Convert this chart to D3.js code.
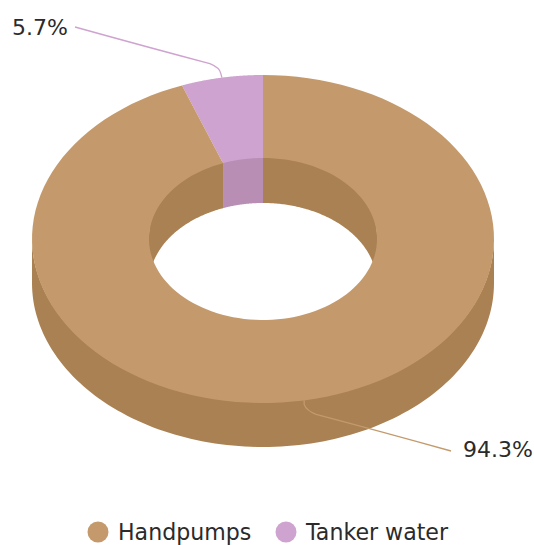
<!DOCTYPE html>
<html><head><meta charset="utf-8">
<script src="https://cdn.jsdelivr.net/npm/d3@7/dist/d3.min.js"></script>
<style>html,body{margin:0;padding:0;background:#fff}svg{display:block}text{font-family:"DejaVu Sans";fill:#2b2b2b}</style>
</head><body><svg id="c" width="534" height="545"></svg>
<script>
const categories = ["Tanker water", "Handpumps"];
const seriesValues = [5.7, 94.3];
const valueLabels = ["5.7%", "94.3%"];
const legendOrder = ["Handpumps", "Tanker water"];
const topColors = {"Handpumps":"#c49a6c","Tanker water":"#cfa3cf"};
const wallColors = {"Handpumps":"#aa8152","Tanker water":"#b88eb5"};

const cx=263, cy=239, rx=231, ry=164, irx=114, iry=81, depth=44;
const svg=d3.select("#c");
const arcs=d3.pie().sort(null).startAngle(-2*Math.PI*seriesValues[0]/100).endAngle(2*Math.PI-2*Math.PI*seriesValues[0]/100)(seriesValues);
const P=(a,k,dy=0)=>[cx+(k?rx:irx)*Math.sin(a), cy-(k?ry:iry)*Math.cos(a)+dy];
const samples=(a0,a1)=>d3.range(0,121).map(i=>a0+(a1-a0)*i/120);
const line=d3.line();

// Outer wall: only the front half is visible
arcs.forEach((d,i)=>{
  const a0=Math.max(d.startAngle,Math.PI/2), a1=Math.min(d.endAngle,3*Math.PI/2);
  if(a1<=a0) return;
  const s=samples(a0,a1);
  svg.append("path").attr("fill",wallColors[categories[i]])
    .attr("d",line([...s.map(a=>P(a,1,-1)),...s.slice().reverse().map(a=>P(a,1,depth))])+"Z");
});
// Hole wall, clipped to the hole: painted first so the top face overlaps its edge
svg.append("clipPath").attr("id","hole").append("path")
  .attr("d",line(samples(0,2*Math.PI).map(a=>[P(a,0)[0]+Math.sin(a),P(a,0)[1]-Math.cos(a)]))+"Z");
const wall=svg.append("g").attr("clip-path","url(#hole)");
arcs.forEach((d,i)=>{
  [[d.startAngle,d.endAngle],[d.startAngle-2*Math.PI,d.endAngle-2*Math.PI]].forEach(([b0,b1])=>{
    const a0=Math.max(b0,-Math.PI/2), a1=Math.min(b1,Math.PI/2);
    if(a1<=a0) return;
    const s=samples(a0,a1);
    wall.append("path").attr("fill",wallColors[categories[i]])
      .attr("d",line([...s.map(a=>P(a,0,-3)),...s.slice().reverse().map(a=>P(a,0,depth+1))])+"Z");
  });
});
// Top face
arcs.forEach((d,i)=>{
  const s=samples(d.startAngle,d.endAngle);
  svg.append("path").attr("fill",topColors[categories[i]])
    .attr("d",line([...s.map(a=>P(a,1)),...s.slice().reverse().map(a=>P(a,0))])+"Z");
});
// Leaders & labels
const mid=d=>(d.startAngle+d.endAngle)/2;
const leaderEnd=[[75,27],[451,451]];
const labelPos=[[68,27,"end"],[463,449,"start"]];
arcs.forEach((d,i)=>{
  const [x0,y0]=P(mid(d),1);
  const e=leaderEnd[i], up=y0<cy?-1:1, side=e[0]<x0?-1:1;
  const p=d3.path();
  p.moveTo(x0,y0);
  p.lineTo(x0+(up<0?-1:0),y0+up*4);
  p.quadraticCurveTo(x0+side*2,y0+up*10,x0+side*12,y0+up*14);
  p.quadraticCurveTo((x0+e[0])/2+side*4,(y0+e[1])/2+up*6,e[0],e[1]);
  svg.append("path").attr("d",p.toString()).attr("fill","none")
    .attr("stroke",topColors[categories[i]]).attr("stroke-width",1.3);
  svg.append("text").attr("x",labelPos[i][0]).attr("y",labelPos[i][1]).attr("text-anchor",labelPos[i][2])
    .attr("dy","0.36em").attr("font-size",22).text(valueLabels[i]);
});
// Legend
const legendX=d3.scaleOrdinal().domain(legendOrder).range([98,286]);
legendOrder.forEach(n=>{
  const g=svg.append("g").attr("transform",`translate(${legendX(n)},532)`);
  g.append("circle").attr("r",10.5).attr("fill",topColors[n]);
  g.append("text").attr("x",20).attr("dy","0.36em").attr("font-size",22.1).text(n);
});
</script></body></html>
